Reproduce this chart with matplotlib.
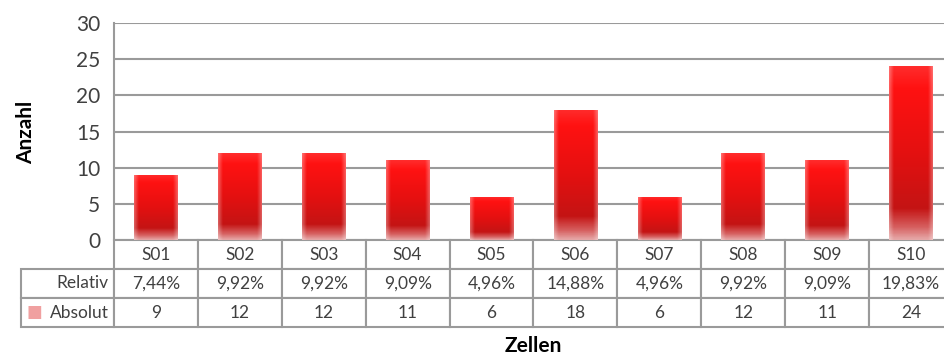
import numpy as np
import matplotlib.pyplot as plt
from matplotlib.colors import LinearSegmentedColormap
from matplotlib.table import Table

plt.rcParams['font.family'] = ['Lato', 'DejaVu Sans']

zellen = ['S01', 'S02', 'S03', 'S04', 'S05', 'S06', 'S07', 'S08', 'S09', 'S10']
absolut = [9, 12, 12, 11, 6, 18, 6, 12, 11, 24]
relativ = ['7,44%', '9,92%', '9,92%', '9,09%', '4,96%', '14,88%', '4,96%', '9,92%', '9,09%', '19,83%']
yticks = [0, 5, 10, 15, 20, 25, 30]

text_col = '#404040'
line_col = '#9a9a9a'

W, H = 945, 356
fig = plt.figure(figsize=(W / 100, H / 100), dpi=100)
# plot area runs slightly past the right edge, as in the reference
left, right, top, bottom = 114, 953, 23, 240
ax = fig.add_axes([left / W, 1 - bottom / H, (right - left) / W, (bottom - top) / H])

x = np.arange(len(zellen))
bars = ax.bar(x, absolut, width=0.52, color='none', zorder=3)

# vertical gradient: pink at the base, dark red low, bright red at the top
grad = LinearSegmentedColormap.from_list('bar', [
    (0.0, '#e6a8a8'), (0.07, '#d66060'), (0.18, '#c41414'),
    (0.5, '#e41010'), (0.88, '#ff1212'), (1.0, '#ff2c2c')])
ny, nx = 200, 40
vy = np.linspace(0, 1, ny)[:, None]
rgba = grad(np.repeat(vy, nx, axis=1))
hx = np.linspace(-1, 1, nx)[None, :]
edge = np.clip((np.abs(hx) - 0.8) / 0.2, 0, 1) * 0.3
rgba[..., :3] = rgba[..., :3] * (1 - edge[..., None]) + edge[..., None]
for b in bars:
    x0, w, h = b.get_x(), b.get_width(), b.get_height()
    im = ax.imshow(rgba, extent=(x0, x0 + w, 0, h), origin='lower',
                   aspect='auto', zorder=3, interpolation='bilinear')
    im.set_clip_path(b)

ax.set_xlim(-0.5, len(zellen) - 0.5)
ax.set_ylim(0, 30)
ax.set_yticks(yticks)
ax.set_xticks([])
ax.tick_params(axis='y', length=0, pad=10, labelsize=15, labelcolor=text_col)
ax.grid(axis='y', color=line_col, linewidth=1.5, zorder=0)
for s in ['top', 'right', 'bottom']:
    ax.spines[s].set_visible(False)
ax.spines['left'].set_color(line_col)
ax.spines['left'].set_linewidth(1.5)

fig.text(26 / W, 1 - 132 / H, 'Anzahl', fontsize=15, fontweight='bold',
         rotation=90, ha='center', va='center')

# data table under the plot
tab_left, tab_bottom = 21, 327
pw, ph = right - left, bottom - top
tbl = Table(ax, bbox=[(tab_left - left) / pw, -(tab_bottom - bottom) / ph,
                      (right - tab_left) / pw, (tab_bottom - bottom) / ph])
col_w = pw / len(zellen)
lab_w = left - tab_left
rows = [zellen, relativ, [str(v) for v in absolut]]
for r, vals in enumerate(rows):
    if r > 0:
        tbl.add_cell(r, 0, lab_w, 1, text=['', 'Relativ', 'Absolut'][r], loc='right')
    for c, v in enumerate(vals):
        tbl.add_cell(r, c + 1, col_w, 1, text=v, loc='center')
tbl.auto_set_font_size(False)
tbl.set_fontsize(12.5)
for (r, c), cell in tbl.get_celld().items():
    cell.set_edgecolor(line_col)
    cell.set_linewidth(1.5)
    cell.get_text().set_color(text_col)
    if c == 0:
        cell.PAD = 0.06
ax.add_table(tbl)

# legend key for the Absolut row
ax.text((27 - left) / pw, -(312 - bottom) / ph, '\u25a0', transform=ax.transAxes,
        color='#f0a0a0', fontsize=12, va='center', ha='left')

fig.text(533 / W, 1 - 346 / H, 'Zellen', fontsize=15,
         fontweight='bold', ha='center', va='center')

fig.savefig('out.png', dpi=100)
